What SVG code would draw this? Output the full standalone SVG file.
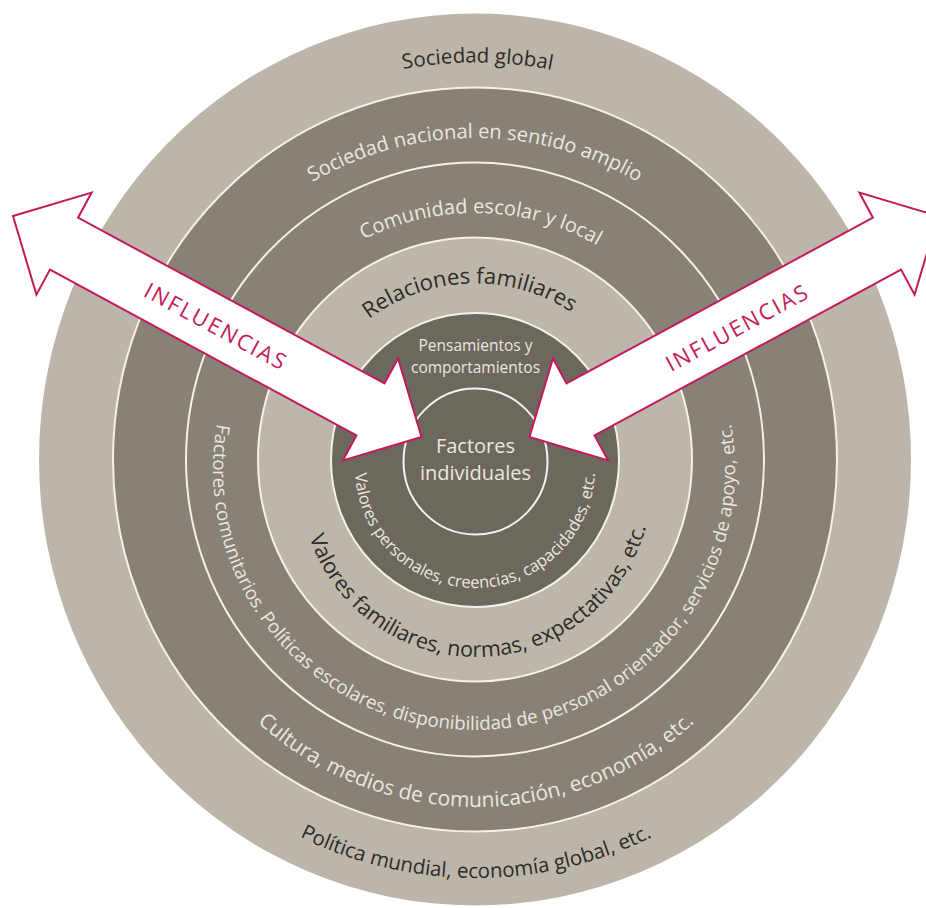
<svg xmlns="http://www.w3.org/2000/svg" xmlns:xlink="http://www.w3.org/1999/xlink" width="926" height="908" viewBox="0 0 926 908">
<style>
  .light { fill:#bcb6aa; }
  .lightS { fill:#bdb7ab; stroke:#f4f1ea; stroke-width:2; }
  .dark { fill:#878176; stroke:#f4f1ea; stroke-width:2; }
  .core { fill:#6d685e; stroke:#f4f1ea; stroke-width:2; }
  text { font-family:"Open Sans","Noto Sans","DejaVu Sans",sans-serif; }
  .tl { fill:#ebe7df; }
  .td { fill:#2e2b28; }
  .arrow { fill:#ffffff; stroke:#c41a5c; stroke-width:2; stroke-linejoin:miter; }
  .infl { fill:#c41a5c; font-size:22px; letter-spacing:2.1px; }
</style>
<defs>
  <path id="p1" d="M475,856.5 A397,397 0 0 1 475,62.5 A397,397 0 0 1 475,856.5"/>
  <path id="p2" d="M475,781 A321.5,321.5 0 0 1 475,138 A321.5,321.5 0 0 1 475,781"/>
  <path id="p3" d="M475,706 A246.5,246.5 0 0 1 475,213 A246.5,246.5 0 0 1 475,706"/>
  <path id="p4" d="M475,635.5 A176,176 0 0 1 475,283.5 A176,176 0 0 1 475,635.5"/>
  <path id="p7" d="M475,348 A120,120 0 0 0 475,588 A120,120 0 0 0 475,348"/>
  <path id="p8" d="M476,305 A176,176 0 0 0 476,657 A176,176 0 0 0 476,305"/>
  <path id="p9" d="M474,208 A261,261 0 0 0 474,730 A261,261 0 0 0 474,208"/>
  <path id="p10" d="M476,157 A325,325 0 0 0 476,807 A325,325 0 0 0 476,157"/>
  <path id="p11" d="M476,82 A398,398 0 0 0 476,878 A398,398 0 0 0 476,82"/>
</defs>

<g id="sociedad-global">
  <ellipse class="light" cx="475" cy="459.5" rx="436" ry="446"/>
  <text class="td" font-size="20.5" text-anchor="middle"><textPath href="#p1" xlink:href="#p1" startOffset="50.1%">Sociedad global</textPath></text>
  <text class="td" font-size="20.5" text-anchor="middle"><textPath href="#p11" xlink:href="#p11" startOffset="50%">Política mundial, economía global, etc.</textPath></text>
</g>

<g id="sociedad-nacional">
  <ellipse class="dark" cx="475" cy="459.5" rx="362" ry="372"/>
  <text class="tl" font-size="20" text-anchor="middle"><textPath href="#p2" xlink:href="#p2" startOffset="50%">Sociedad nacional en sentido amplio</textPath></text>
  <text class="tl" font-size="21" text-anchor="middle"><textPath href="#p10" xlink:href="#p10" startOffset="50%">Cultura, medios de comunicación, economía, etc.</textPath></text>
</g>

<g id="comunidad-escolar">
  <ellipse class="dark" cx="475" cy="459.5" rx="289" ry="297"/>
  <text class="tl" font-size="20" text-anchor="middle"><textPath href="#p3" xlink:href="#p3" startOffset="50.4%">Comunidad escolar y local</textPath></text>
  <text class="tl" font-size="18.7" text-anchor="middle"><textPath href="#p9" xlink:href="#p9" startOffset="50%">Factores comunitarios. Políticas escolares, disponibilidad de personal orientador, servicios de apoyo, etc.</textPath></text>
</g>

<g id="relaciones-familiares">
  <ellipse class="lightS" cx="475" cy="459.5" rx="217" ry="222"/>
  <text class="td" font-size="22" text-anchor="middle"><textPath href="#p4" xlink:href="#p4" startOffset="49.45%">Relaciones familiares</textPath></text>
  <text class="td" font-size="21.5" text-anchor="middle"><textPath href="#p8" xlink:href="#p8" startOffset="50.5%">Valores familiares, normas, expectativas, etc.</textPath></text>
</g>

<g id="pensamientos">
  <ellipse class="core" cx="475" cy="460" rx="144" ry="147"/>
  <text class="tl" font-size="15.5" text-anchor="middle" x="475.5" y="351">Pensamientos y</text>
  <text class="tl" font-size="15.5" text-anchor="middle" x="475.5" y="373">comportamientos</text>
  <text class="tl" font-size="16.5" text-anchor="middle"><textPath href="#p7" xlink:href="#p7" startOffset="50%">Valores personales, creencias, capacidades, etc.</textPath></text>
</g>

<g id="factores-individuales">
  <ellipse class="core" cx="475.5" cy="461.5" rx="72" ry="73"/>
  <text class="tl" font-size="20" text-anchor="middle" x="475.5" y="453">Factores</text>
  <text class="tl" font-size="20" text-anchor="middle" x="475.5" y="480">individuales</text>
</g>

<g id="connectors">
  <g id="arrow-left" transform="translate(13,216) rotate(28.42)">
    <polygon class="arrow" points="0,0 58,-58 58,-29.5 406.45,-29.5 406.45,-58 464.45,0 406.45,58 406.45,29.5 58,29.5 58,58"/>
  </g>
  <text class="infl" text-anchor="middle" transform="translate(216,326.5) rotate(28.42)" y="7.8">INFLUENCIAS</text>
  <g id="arrow-right" transform="translate(938,216) rotate(151.58)">
    <polygon class="arrow" points="0,0 58,-58 58,-29.5 406.45,-29.5 406.45,-58 464.45,0 406.45,58 406.45,29.5 58,29.5 58,58"/>
  </g>
  <text class="infl" text-anchor="middle" transform="translate(737.5,327.5) rotate(-28.42)" y="7.8">INFLUENCIAS</text>
</g>
</svg>
